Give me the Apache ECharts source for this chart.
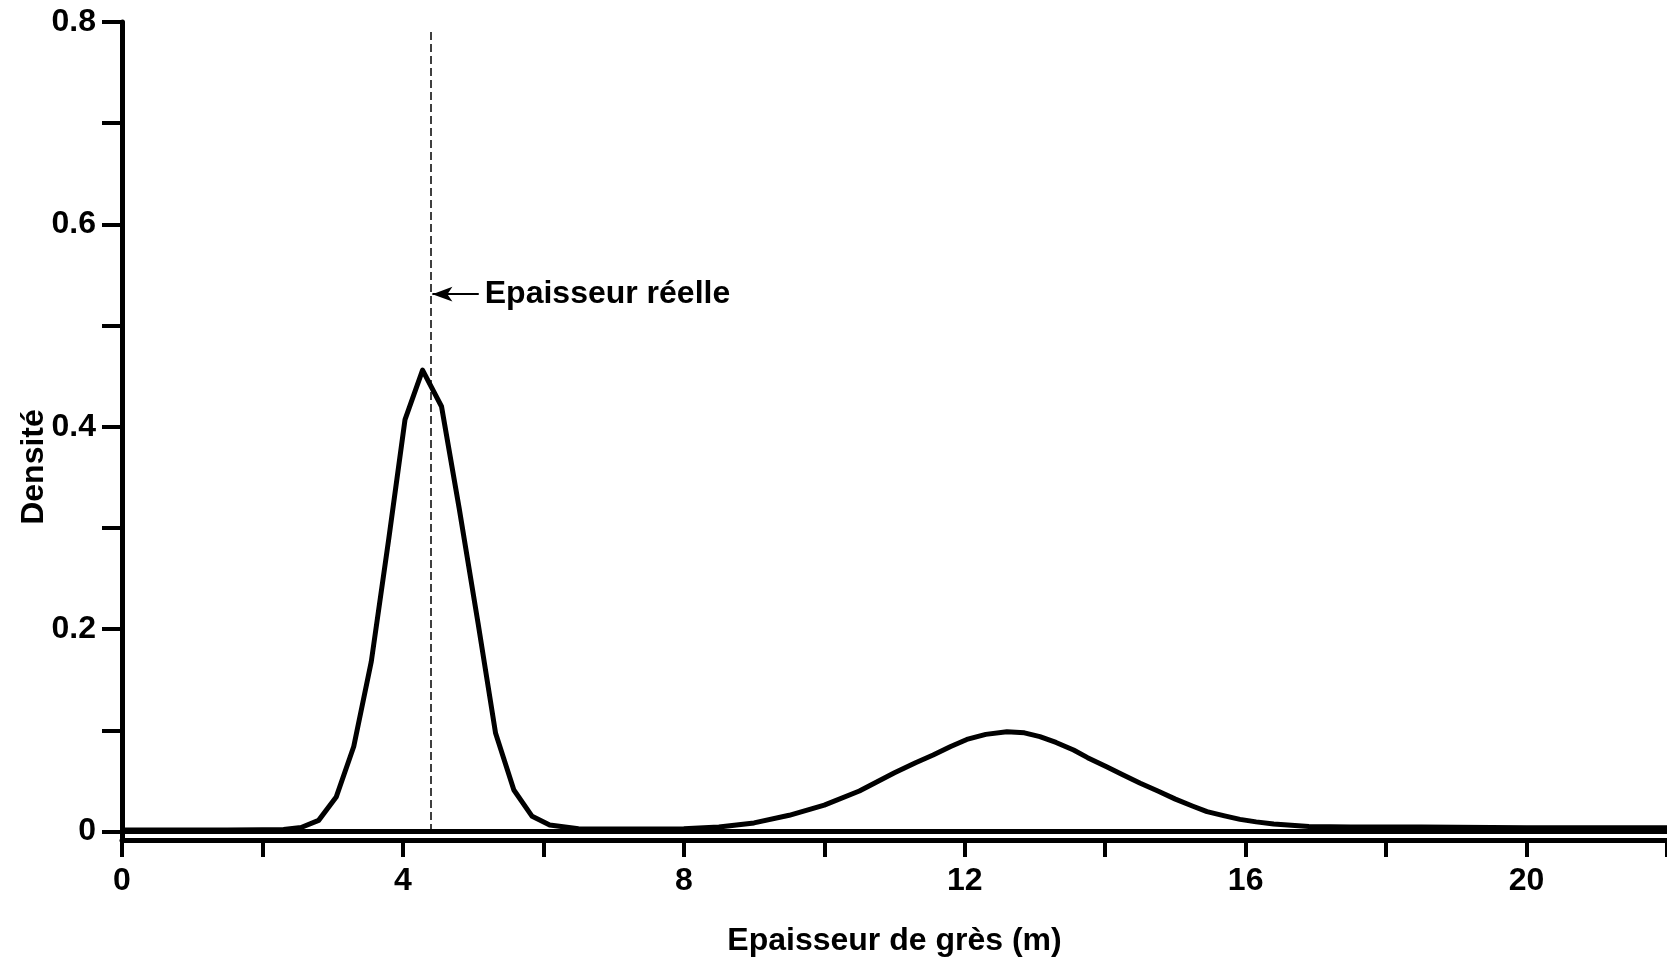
<!DOCTYPE html>
<html>
<head>
<meta charset="utf-8">
<script src="https://cdn.jsdelivr.net/npm/echarts@6/dist/echarts.min.js"></script>
<style>
  html, body { margin: 0; padding: 0; background: #fff; }
  #chart { width: 1667px; height: 962px; }
</style>
</head>
<body>
<div id="chart"></div>
<script>
// Sandstone thickness (m) and estimated probability density
const thickness = [0, 0.5, 1.0, 1.5, 2.0, 2.3, 2.55, 2.8, 3.05, 3.3, 3.55, 3.8, 4.03, 4.28, 4.55, 4.8, 5.07, 5.32, 5.58, 5.84, 6.09, 6.5, 7.0, 7.5, 8.0, 8.5, 9.0, 9.5, 10.0, 10.5, 11.0, 11.3, 11.55, 11.8, 12.03, 12.3, 12.6, 12.85, 13.07, 13.3, 13.55, 13.75, 14.02, 14.25, 14.5, 14.75, 15.0, 15.25, 15.45, 15.7, 15.92, 16.15, 16.4, 16.9, 17.5, 18.5, 19.0, 20.0, 21.0, 22.0];
const density = [0.0015, 0.0015, 0.0015, 0.0015, 0.0017, 0.002, 0.004, 0.011, 0.034, 0.084, 0.168, 0.29, 0.407, 0.456, 0.42, 0.32, 0.206, 0.097, 0.041, 0.015, 0.0064, 0.0028, 0.0025, 0.0025, 0.0027, 0.0045, 0.0085, 0.016, 0.026, 0.040, 0.058, 0.068, 0.0756, 0.084, 0.091, 0.096, 0.0986, 0.0975, 0.0937, 0.088, 0.0805, 0.073, 0.064, 0.056, 0.0476, 0.040, 0.032, 0.025, 0.0196, 0.0155, 0.012, 0.0095, 0.0074, 0.005, 0.0045, 0.0045, 0.0042, 0.0036, 0.0036, 0.0036];

// True thickness marker and its annotation
const trueThickness = 4.4;
const trueLabel = 'Epaisseur réelle';
const arrowLevel = 0.531;
const arrowTail = 5.08;

// Axis ticks and labels
const xTicks = [0, 2, 4, 6, 8, 10, 12, 14, 16, 18, 20, 22];
const xLabels = [0, 4, 8, 12, 16, 20];
const yTicks = [0, 0.1, 0.2, 0.3, 0.4, 0.5, 0.6, 0.7, 0.8];
const yLabels = [0, 0.2, 0.4, 0.6, 0.8];

const xTitle = 'Epaisseur de grès (m)';
const yTitle = 'Densité';

const FONT = '"Liberation Sans", Arial, Helvetica, sans-serif';
const textStyle = { color: '#000', fontFamily: FONT, fontWeight: 'bold', fontSize: 32 };

const chart = echarts.init(document.getElementById('chart'), null, { renderer: 'canvas' });

chart.setOption({
  animation: false,
  backgroundColor: '#fff',
  grid: { left: 122, right: 0, top: 22, bottom: 122, containLabel: false },
  xAxis: [{
    type: 'value',
    min: 0,
    max: 22,
    name: xTitle,
    nameLocation: 'middle',
    nameGap: 85,
    nameMoveOverlap: false,
    nameTextStyle: textStyle,
    axisLine: { show: true, onZero: false, lineStyle: { color: '#000', width: 5 } },
    axisTick: { show: true, inside: false, length: 17, customValues: xTicks, lineStyle: { color: '#000', width: 4 } },
    axisLabel: Object.assign({ margin: 25, customValues: xLabels }, textStyle),
    splitLine: { show: false }
  }, {
    type: 'value',
    position: 'top',
    min: 0,
    max: 22,
    axisLine: { show: true, lineStyle: { color: '#000', width: 5 } },
    axisTick: { show: false },
    axisLabel: { show: false },
    splitLine: { show: false }
  }],
  yAxis: {
    type: 'value',
    min: -0.0084,
    max: 0.8,
    name: yTitle,
    nameLocation: 'middle',
    nameGap: 72,
    nameMoveOverlap: false,
    nameTextStyle: Object.assign({ padding: [0, 72, 0, 0] }, textStyle),
    axisLine: { show: true, onZero: false, lineStyle: { color: '#000', width: 5 } },
    axisTick: { show: true, inside: false, length: 20, customValues: yTicks, lineStyle: { color: '#000', width: 4 } },
    axisLabel: Object.assign({ margin: 26, customValues: yLabels }, textStyle),
    splitLine: { show: false }
  },
  series: [{
    type: 'line',
    data: thickness.map((x, i) => [x, density[i]]),
    showSymbol: false,
    smooth: false,
    clip: true,
    lineStyle: { color: '#000', width: 5, join: 'round' },
    z: 3,
    markLine: {
      silent: true,
      animation: false,
      data: [
        [
          { coord: [trueThickness, 0.79], symbol: 'none',
            lineStyle: { color: '#000', width: 1.5, type: [8, 4] }, label: { show: false } },
          { coord: [trueThickness, -0.004], symbol: 'none' }
        ],
        [
          { coord: [trueThickness + 0.02, arrowLevel], symbol: 'arrow', symbolSize: [11, 20],
            lineStyle: { color: '#000', width: 2, type: 'solid' },
            label: Object.assign({ show: true, position: 'end', distance: 6, formatter: trueLabel }, textStyle) },
          { coord: [arrowTail, arrowLevel], symbol: 'none' }
        ]
      ]
    }
  }]
});
</script>
</body>
</html>
